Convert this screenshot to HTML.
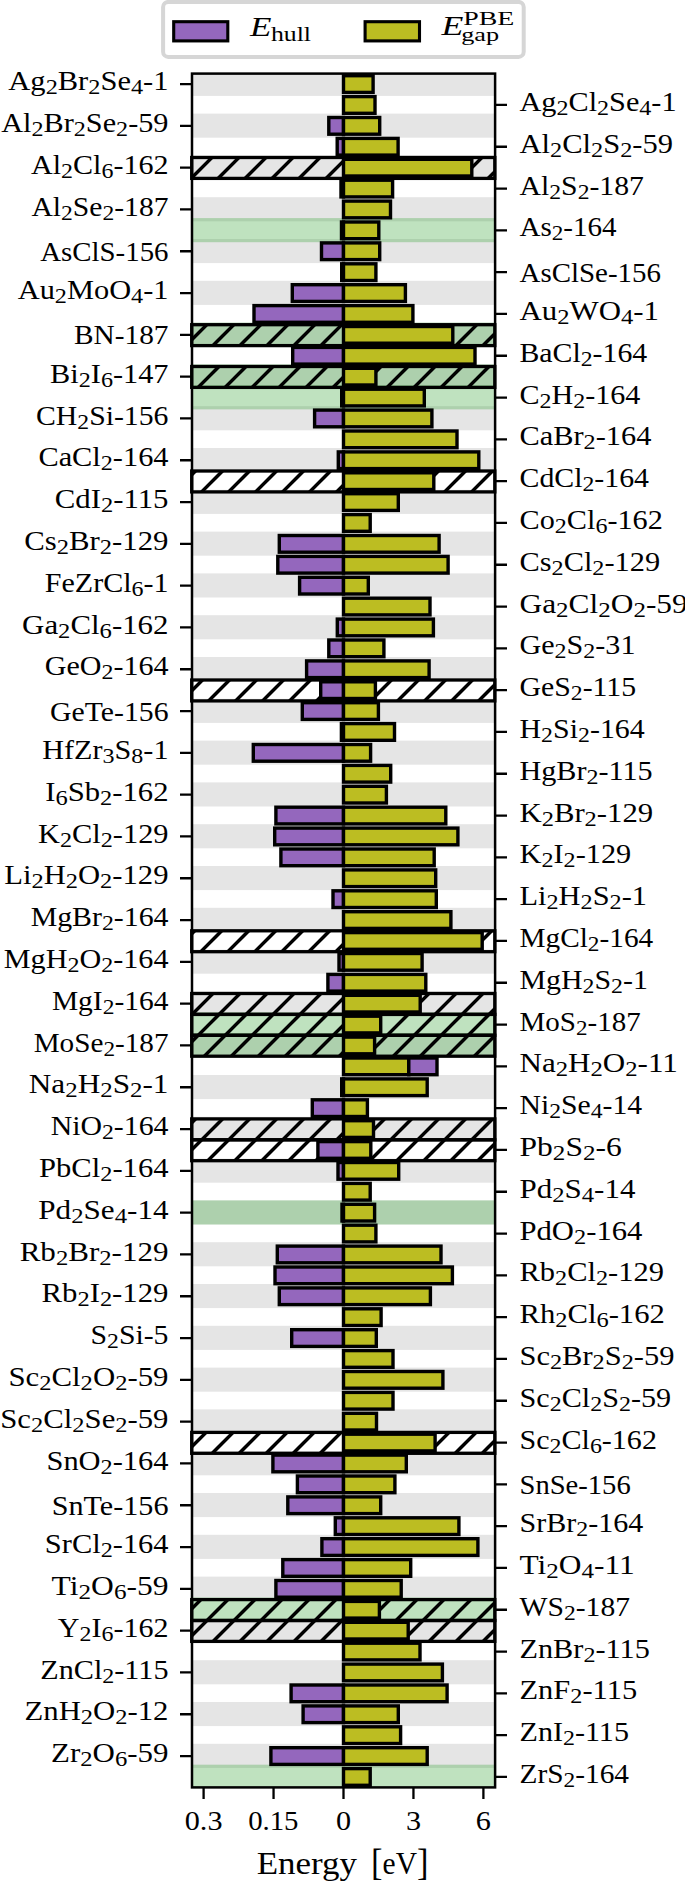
<!DOCTYPE html><html><head><meta charset="utf-8"><style>html,body{margin:0;padding:0;background:#fff;width:685px;height:1882px;overflow:hidden}svg{display:block}.lb{font-family:"Liberation Serif",serif;font-size:27px;fill:#000}</style></head><body>
<svg width="685" height="1882" viewBox="0 0 685 1882">
<defs><pattern id="ht" patternUnits="userSpaceOnUse" x="1" y="0" width="27" height="27"><path d="M-2 19.5L19.5 -2M15.5 29L29 15.5" stroke="#000" stroke-width="3.4" fill="none"/></pattern><clipPath id="ax"><rect x="192" y="73.6" width="303.1" height="1713.8"/></clipPath></defs>
<rect width="685" height="1882" fill="#fff"/>
<g clip-path="url(#ax)">
<rect x="192" y="71.8" width="303.1" height="24.1" fill="#e5e5e5"/>
<rect x="192" y="113.6" width="303.1" height="24.1" fill="#e5e5e5"/>
<rect x="192" y="155.4" width="303.1" height="24.1" fill="#e5e5e5"/>
<rect x="192" y="197.2" width="303.1" height="24.1" fill="#e5e5e5"/>
<rect x="192" y="239" width="303.1" height="24.1" fill="#e5e5e5"/>
<rect x="192" y="280.8" width="303.1" height="24.1" fill="#e5e5e5"/>
<rect x="192" y="322.6" width="303.1" height="24.1" fill="#e5e5e5"/>
<rect x="192" y="364.4" width="303.1" height="24.1" fill="#e5e5e5"/>
<rect x="192" y="406.2" width="303.1" height="24.1" fill="#e5e5e5"/>
<rect x="192" y="448" width="303.1" height="24.1" fill="#e5e5e5"/>
<rect x="192" y="489.8" width="303.1" height="24.1" fill="#e5e5e5"/>
<rect x="192" y="531.6" width="303.1" height="24.1" fill="#e5e5e5"/>
<rect x="192" y="573.4" width="303.1" height="24.1" fill="#e5e5e5"/>
<rect x="192" y="615.2" width="303.1" height="24.1" fill="#e5e5e5"/>
<rect x="192" y="657" width="303.1" height="24.1" fill="#e5e5e5"/>
<rect x="192" y="698.8" width="303.1" height="24.1" fill="#e5e5e5"/>
<rect x="192" y="740.6" width="303.1" height="24.1" fill="#e5e5e5"/>
<rect x="192" y="782.4" width="303.1" height="24.1" fill="#e5e5e5"/>
<rect x="192" y="824.2" width="303.1" height="24.1" fill="#e5e5e5"/>
<rect x="192" y="866" width="303.1" height="24.1" fill="#e5e5e5"/>
<rect x="192" y="907.8" width="303.1" height="24.1" fill="#e5e5e5"/>
<rect x="192" y="949.6" width="303.1" height="24.1" fill="#e5e5e5"/>
<rect x="192" y="991.4" width="303.1" height="24.1" fill="#e5e5e5"/>
<rect x="192" y="1033.2" width="303.1" height="24.1" fill="#e5e5e5"/>
<rect x="192" y="1075" width="303.1" height="24.1" fill="#e5e5e5"/>
<rect x="192" y="1116.8" width="303.1" height="24.1" fill="#e5e5e5"/>
<rect x="192" y="1158.6" width="303.1" height="24.1" fill="#e5e5e5"/>
<rect x="192" y="1200.4" width="303.1" height="24.1" fill="#e5e5e5"/>
<rect x="192" y="1242.2" width="303.1" height="24.1" fill="#e5e5e5"/>
<rect x="192" y="1284" width="303.1" height="24.1" fill="#e5e5e5"/>
<rect x="192" y="1325.8" width="303.1" height="24.1" fill="#e5e5e5"/>
<rect x="192" y="1367.6" width="303.1" height="24.1" fill="#e5e5e5"/>
<rect x="192" y="1409.4" width="303.1" height="24.1" fill="#e5e5e5"/>
<rect x="192" y="1451.2" width="303.1" height="24.1" fill="#e5e5e5"/>
<rect x="192" y="1493" width="303.1" height="24.1" fill="#e5e5e5"/>
<rect x="192" y="1534.8" width="303.1" height="24.1" fill="#e5e5e5"/>
<rect x="192" y="1576.6" width="303.1" height="24.1" fill="#e5e5e5"/>
<rect x="192" y="1618.4" width="303.1" height="24.1" fill="#e5e5e5"/>
<rect x="192" y="1660.2" width="303.1" height="24.1" fill="#e5e5e5"/>
<rect x="192" y="1702" width="303.1" height="24.1" fill="#e5e5e5"/>
<rect x="192" y="1743.8" width="303.1" height="24.1" fill="#e5e5e5"/>
<rect x="192" y="218.1" width="303.1" height="24.1" fill="#2ca02c" fill-opacity="0.3"/>
<rect x="192" y="322.6" width="303.1" height="24.1" fill="#2ca02c" fill-opacity="0.3"/>
<rect x="192" y="364.4" width="303.1" height="24.1" fill="#2ca02c" fill-opacity="0.3"/>
<rect x="192" y="385.3" width="303.1" height="24.1" fill="#2ca02c" fill-opacity="0.3"/>
<rect x="192" y="1012.3" width="303.1" height="24.1" fill="#2ca02c" fill-opacity="0.3"/>
<rect x="192" y="1033.2" width="303.1" height="24.1" fill="#2ca02c" fill-opacity="0.3"/>
<rect x="192" y="1200.4" width="303.1" height="24.1" fill="#2ca02c" fill-opacity="0.3"/>
<rect x="192" y="1597.5" width="303.1" height="24.1" fill="#2ca02c" fill-opacity="0.3"/>
<rect x="192" y="1764.7" width="303.1" height="24.1" fill="#2ca02c" fill-opacity="0.3"/>
<rect x="192" y="157.5" width="303.1" height="20.9" fill="url(#ht)"/>
<rect x="192" y="324.7" width="303.1" height="20.9" fill="url(#ht)"/>
<rect x="192" y="366.5" width="303.1" height="20.9" fill="url(#ht)"/>
<rect x="192" y="471" width="303.1" height="20.9" fill="url(#ht)"/>
<rect x="192" y="680" width="303.1" height="20.9" fill="url(#ht)"/>
<rect x="192" y="930.8" width="303.1" height="20.9" fill="url(#ht)"/>
<rect x="192" y="993.5" width="303.1" height="20.9" fill="url(#ht)"/>
<rect x="192" y="1014.4" width="303.1" height="20.9" fill="url(#ht)"/>
<rect x="192" y="1035.3" width="303.1" height="20.9" fill="url(#ht)"/>
<rect x="192" y="1118.9" width="303.1" height="20.9" fill="url(#ht)"/>
<rect x="192" y="1139.8" width="303.1" height="20.9" fill="url(#ht)"/>
<rect x="192" y="1432.4" width="303.1" height="20.9" fill="url(#ht)"/>
<rect x="192" y="1599.6" width="303.1" height="20.9" fill="url(#ht)"/>
<rect x="192" y="1620.5" width="303.1" height="20.9" fill="url(#ht)"/>
</g>
<rect x="191.7" y="157.5" width="303.1" height="20.9" fill="none" stroke="#000" stroke-width="3.3"/>
<rect x="191.7" y="324.7" width="303.1" height="20.9" fill="none" stroke="#000" stroke-width="3.3"/>
<rect x="191.7" y="366.5" width="303.1" height="20.9" fill="none" stroke="#000" stroke-width="3.3"/>
<rect x="191.7" y="471" width="303.1" height="20.9" fill="none" stroke="#000" stroke-width="3.3"/>
<rect x="191.7" y="680" width="303.1" height="20.9" fill="none" stroke="#000" stroke-width="3.3"/>
<rect x="191.7" y="930.8" width="303.1" height="20.9" fill="none" stroke="#000" stroke-width="3.3"/>
<rect x="191.7" y="993.5" width="303.1" height="20.9" fill="none" stroke="#000" stroke-width="3.3"/>
<rect x="191.7" y="1014.4" width="303.1" height="20.9" fill="none" stroke="#000" stroke-width="3.3"/>
<rect x="191.7" y="1035.3" width="303.1" height="20.9" fill="none" stroke="#000" stroke-width="3.3"/>
<rect x="191.7" y="1118.9" width="303.1" height="20.9" fill="none" stroke="#000" stroke-width="3.3"/>
<rect x="191.7" y="1139.8" width="303.1" height="20.9" fill="none" stroke="#000" stroke-width="3.3"/>
<rect x="191.7" y="1432.4" width="303.1" height="20.9" fill="none" stroke="#000" stroke-width="3.3"/>
<rect x="191.7" y="1599.6" width="303.1" height="20.9" fill="none" stroke="#000" stroke-width="3.3"/>
<rect x="191.7" y="1620.5" width="303.1" height="20.9" fill="none" stroke="#000" stroke-width="3.3"/>
<rect x="343.5" y="75.7" width="29.6" height="16.7" fill="#bcbd22" stroke="#000" stroke-width="3.4"/>
<rect x="343.5" y="96.6" width="31.5" height="16.7" fill="#bcbd22" stroke="#000" stroke-width="3.4"/>
<rect x="328.8" y="117.5" width="14.7" height="16.7" fill="#9467bd" stroke="#000" stroke-width="3.4"/>
<rect x="343.5" y="117.5" width="36.2" height="16.7" fill="#bcbd22" stroke="#000" stroke-width="3.4"/>
<rect x="337.2" y="138.4" width="6.3" height="16.7" fill="#9467bd" stroke="#000" stroke-width="3.4"/>
<rect x="343.5" y="138.4" width="54.6" height="16.7" fill="#bcbd22" stroke="#000" stroke-width="3.4"/>
<rect x="343.5" y="159.3" width="128.3" height="16.7" fill="#bcbd22" stroke="#000" stroke-width="3.4"/>
<rect x="341" y="180.2" width="2.5" height="16.7" fill="#9467bd" stroke="#000" stroke-width="3.4"/>
<rect x="343.5" y="180.2" width="49.1" height="16.7" fill="#bcbd22" stroke="#000" stroke-width="3.4"/>
<rect x="343.5" y="201.1" width="47" height="16.7" fill="#bcbd22" stroke="#000" stroke-width="3.4"/>
<rect x="341.5" y="222" width="2" height="16.7" fill="#9467bd" stroke="#000" stroke-width="3.4"/>
<rect x="343.5" y="222" width="35.3" height="16.7" fill="#bcbd22" stroke="#000" stroke-width="3.4"/>
<rect x="321.5" y="242.9" width="22" height="16.7" fill="#9467bd" stroke="#000" stroke-width="3.4"/>
<rect x="343.5" y="242.9" width="36.2" height="16.7" fill="#bcbd22" stroke="#000" stroke-width="3.4"/>
<rect x="341.7" y="263.8" width="1.8" height="16.7" fill="#9467bd" stroke="#000" stroke-width="3.4"/>
<rect x="343.5" y="263.8" width="32.4" height="16.7" fill="#bcbd22" stroke="#000" stroke-width="3.4"/>
<rect x="292.3" y="284.7" width="51.2" height="16.7" fill="#9467bd" stroke="#000" stroke-width="3.4"/>
<rect x="343.5" y="284.7" width="61.9" height="16.7" fill="#bcbd22" stroke="#000" stroke-width="3.4"/>
<rect x="254" y="305.6" width="89.5" height="16.7" fill="#9467bd" stroke="#000" stroke-width="3.4"/>
<rect x="343.5" y="305.6" width="69.4" height="16.7" fill="#bcbd22" stroke="#000" stroke-width="3.4"/>
<rect x="343.5" y="326.5" width="109.3" height="16.7" fill="#bcbd22" stroke="#000" stroke-width="3.4"/>
<rect x="292.7" y="347.4" width="50.8" height="16.7" fill="#9467bd" stroke="#000" stroke-width="3.4"/>
<rect x="343.5" y="347.4" width="131.5" height="16.7" fill="#bcbd22" stroke="#000" stroke-width="3.4"/>
<rect x="343.5" y="368.3" width="32.4" height="16.7" fill="#bcbd22" stroke="#000" stroke-width="3.4"/>
<rect x="341.7" y="389.2" width="1.8" height="16.7" fill="#9467bd" stroke="#000" stroke-width="3.4"/>
<rect x="343.5" y="389.2" width="80.8" height="16.7" fill="#bcbd22" stroke="#000" stroke-width="3.4"/>
<rect x="314.6" y="410.1" width="28.9" height="16.7" fill="#9467bd" stroke="#000" stroke-width="3.4"/>
<rect x="343.5" y="410.1" width="88.4" height="16.7" fill="#bcbd22" stroke="#000" stroke-width="3.4"/>
<rect x="343.5" y="431" width="113.5" height="16.7" fill="#bcbd22" stroke="#000" stroke-width="3.4"/>
<rect x="338.3" y="451.9" width="5.2" height="16.7" fill="#9467bd" stroke="#000" stroke-width="3.4"/>
<rect x="343.5" y="451.9" width="135.3" height="16.7" fill="#bcbd22" stroke="#000" stroke-width="3.4"/>
<rect x="343.5" y="472.8" width="90.3" height="16.7" fill="#bcbd22" stroke="#000" stroke-width="3.4"/>
<rect x="343.5" y="493.7" width="54.8" height="16.7" fill="#bcbd22" stroke="#000" stroke-width="3.4"/>
<rect x="343.5" y="514.6" width="26.7" height="16.7" fill="#bcbd22" stroke="#000" stroke-width="3.4"/>
<rect x="279.3" y="535.5" width="64.2" height="16.7" fill="#9467bd" stroke="#000" stroke-width="3.4"/>
<rect x="343.5" y="535.5" width="95.6" height="16.7" fill="#bcbd22" stroke="#000" stroke-width="3.4"/>
<rect x="277.8" y="556.4" width="65.7" height="16.7" fill="#9467bd" stroke="#000" stroke-width="3.4"/>
<rect x="343.5" y="556.4" width="104.6" height="16.7" fill="#bcbd22" stroke="#000" stroke-width="3.4"/>
<rect x="299.6" y="577.3" width="43.9" height="16.7" fill="#9467bd" stroke="#000" stroke-width="3.4"/>
<rect x="343.5" y="577.3" width="24.8" height="16.7" fill="#bcbd22" stroke="#000" stroke-width="3.4"/>
<rect x="343.5" y="598.2" width="86.5" height="16.7" fill="#bcbd22" stroke="#000" stroke-width="3.4"/>
<rect x="337.3" y="619.1" width="6.2" height="16.7" fill="#9467bd" stroke="#000" stroke-width="3.4"/>
<rect x="343.5" y="619.1" width="89.9" height="16.7" fill="#bcbd22" stroke="#000" stroke-width="3.4"/>
<rect x="328.8" y="640" width="14.7" height="16.7" fill="#9467bd" stroke="#000" stroke-width="3.4"/>
<rect x="343.5" y="640" width="40.4" height="16.7" fill="#bcbd22" stroke="#000" stroke-width="3.4"/>
<rect x="306.6" y="660.9" width="36.9" height="16.7" fill="#9467bd" stroke="#000" stroke-width="3.4"/>
<rect x="343.5" y="660.9" width="85.6" height="16.7" fill="#bcbd22" stroke="#000" stroke-width="3.4"/>
<rect x="320.7" y="681.8" width="22.8" height="16.7" fill="#9467bd" stroke="#000" stroke-width="3.4"/>
<rect x="343.5" y="681.8" width="31.9" height="16.7" fill="#bcbd22" stroke="#000" stroke-width="3.4"/>
<rect x="302.3" y="702.7" width="41.2" height="16.7" fill="#9467bd" stroke="#000" stroke-width="3.4"/>
<rect x="343.5" y="702.7" width="34.9" height="16.7" fill="#bcbd22" stroke="#000" stroke-width="3.4"/>
<rect x="341.4" y="723.6" width="2.1" height="16.7" fill="#9467bd" stroke="#000" stroke-width="3.4"/>
<rect x="343.5" y="723.6" width="51" height="16.7" fill="#bcbd22" stroke="#000" stroke-width="3.4"/>
<rect x="253.3" y="744.5" width="90.2" height="16.7" fill="#9467bd" stroke="#000" stroke-width="3.4"/>
<rect x="343.5" y="744.5" width="27.1" height="16.7" fill="#bcbd22" stroke="#000" stroke-width="3.4"/>
<rect x="343.5" y="765.4" width="47.2" height="16.7" fill="#bcbd22" stroke="#000" stroke-width="3.4"/>
<rect x="343.5" y="786.3" width="42.9" height="16.7" fill="#bcbd22" stroke="#000" stroke-width="3.4"/>
<rect x="275.9" y="807.2" width="67.6" height="16.7" fill="#9467bd" stroke="#000" stroke-width="3.4"/>
<rect x="343.5" y="807.2" width="102.3" height="16.7" fill="#bcbd22" stroke="#000" stroke-width="3.4"/>
<rect x="274.7" y="828.1" width="68.8" height="16.7" fill="#9467bd" stroke="#000" stroke-width="3.4"/>
<rect x="343.5" y="828.1" width="114.4" height="16.7" fill="#bcbd22" stroke="#000" stroke-width="3.4"/>
<rect x="280.9" y="849" width="62.6" height="16.7" fill="#9467bd" stroke="#000" stroke-width="3.4"/>
<rect x="343.5" y="849" width="90.7" height="16.7" fill="#bcbd22" stroke="#000" stroke-width="3.4"/>
<rect x="343.5" y="869.9" width="92.2" height="16.7" fill="#bcbd22" stroke="#000" stroke-width="3.4"/>
<rect x="333" y="890.8" width="10.5" height="16.7" fill="#9467bd" stroke="#000" stroke-width="3.4"/>
<rect x="343.5" y="890.8" width="92.8" height="16.7" fill="#bcbd22" stroke="#000" stroke-width="3.4"/>
<rect x="343.5" y="911.7" width="107.4" height="16.7" fill="#bcbd22" stroke="#000" stroke-width="3.4"/>
<rect x="343.5" y="932.6" width="138.7" height="16.7" fill="#bcbd22" stroke="#000" stroke-width="3.4"/>
<rect x="339" y="953.5" width="4.5" height="16.7" fill="#9467bd" stroke="#000" stroke-width="3.4"/>
<rect x="343.5" y="953.5" width="78.6" height="16.7" fill="#bcbd22" stroke="#000" stroke-width="3.4"/>
<rect x="327.9" y="974.4" width="15.6" height="16.7" fill="#9467bd" stroke="#000" stroke-width="3.4"/>
<rect x="343.5" y="974.4" width="82.3" height="16.7" fill="#bcbd22" stroke="#000" stroke-width="3.4"/>
<rect x="343.5" y="995.3" width="76.7" height="16.7" fill="#bcbd22" stroke="#000" stroke-width="3.4"/>
<rect x="343.5" y="1016.2" width="37.2" height="16.7" fill="#bcbd22" stroke="#000" stroke-width="3.4"/>
<rect x="343.5" y="1037.1" width="31.1" height="16.7" fill="#bcbd22" stroke="#000" stroke-width="3.4"/>
<rect x="343.5" y="1058" width="65.3" height="16.7" fill="#bcbd22" stroke="#000" stroke-width="3.4"/>
<rect x="408.8" y="1058" width="28.2" height="16.7" fill="#9467bd" stroke="#000" stroke-width="3.4"/>
<rect x="341.7" y="1078.9" width="1.8" height="16.7" fill="#9467bd" stroke="#000" stroke-width="3.4"/>
<rect x="343.5" y="1078.9" width="83.7" height="16.7" fill="#bcbd22" stroke="#000" stroke-width="3.4"/>
<rect x="312.3" y="1099.8" width="31.2" height="16.7" fill="#9467bd" stroke="#000" stroke-width="3.4"/>
<rect x="343.5" y="1099.8" width="23.9" height="16.7" fill="#bcbd22" stroke="#000" stroke-width="3.4"/>
<rect x="343.5" y="1120.7" width="30" height="16.7" fill="#bcbd22" stroke="#000" stroke-width="3.4"/>
<rect x="317.9" y="1141.6" width="25.6" height="16.7" fill="#9467bd" stroke="#000" stroke-width="3.4"/>
<rect x="343.5" y="1141.6" width="27.3" height="16.7" fill="#bcbd22" stroke="#000" stroke-width="3.4"/>
<rect x="338" y="1162.5" width="5.5" height="16.7" fill="#9467bd" stroke="#000" stroke-width="3.4"/>
<rect x="343.5" y="1162.5" width="55.2" height="16.7" fill="#bcbd22" stroke="#000" stroke-width="3.4"/>
<rect x="343.5" y="1183.4" width="26.7" height="16.7" fill="#bcbd22" stroke="#000" stroke-width="3.4"/>
<rect x="342" y="1204.3" width="1.5" height="16.7" fill="#9467bd" stroke="#000" stroke-width="3.4"/>
<rect x="343.5" y="1204.3" width="31.1" height="16.7" fill="#bcbd22" stroke="#000" stroke-width="3.4"/>
<rect x="343.5" y="1225.2" width="32.4" height="16.7" fill="#bcbd22" stroke="#000" stroke-width="3.4"/>
<rect x="277.3" y="1246.1" width="66.2" height="16.7" fill="#9467bd" stroke="#000" stroke-width="3.4"/>
<rect x="343.5" y="1246.1" width="97.5" height="16.7" fill="#bcbd22" stroke="#000" stroke-width="3.4"/>
<rect x="275" y="1267" width="68.5" height="16.7" fill="#9467bd" stroke="#000" stroke-width="3.4"/>
<rect x="343.5" y="1267" width="108.9" height="16.7" fill="#bcbd22" stroke="#000" stroke-width="3.4"/>
<rect x="279.3" y="1287.9" width="64.2" height="16.7" fill="#9467bd" stroke="#000" stroke-width="3.4"/>
<rect x="343.5" y="1287.9" width="86.9" height="16.7" fill="#bcbd22" stroke="#000" stroke-width="3.4"/>
<rect x="343.5" y="1308.8" width="37.6" height="16.7" fill="#bcbd22" stroke="#000" stroke-width="3.4"/>
<rect x="291.7" y="1329.7" width="51.8" height="16.7" fill="#9467bd" stroke="#000" stroke-width="3.4"/>
<rect x="343.5" y="1329.7" width="32.8" height="16.7" fill="#bcbd22" stroke="#000" stroke-width="3.4"/>
<rect x="343.5" y="1350.6" width="49.5" height="16.7" fill="#bcbd22" stroke="#000" stroke-width="3.4"/>
<rect x="343.5" y="1371.5" width="99.4" height="16.7" fill="#bcbd22" stroke="#000" stroke-width="3.4"/>
<rect x="343.5" y="1392.4" width="49.5" height="16.7" fill="#bcbd22" stroke="#000" stroke-width="3.4"/>
<rect x="343.5" y="1413.3" width="33" height="16.7" fill="#bcbd22" stroke="#000" stroke-width="3.4"/>
<rect x="343.5" y="1434.2" width="91.6" height="16.7" fill="#bcbd22" stroke="#000" stroke-width="3.4"/>
<rect x="272.9" y="1455.1" width="70.6" height="16.7" fill="#9467bd" stroke="#000" stroke-width="3.4"/>
<rect x="343.5" y="1455.1" width="62.8" height="16.7" fill="#bcbd22" stroke="#000" stroke-width="3.4"/>
<rect x="297.4" y="1476" width="46.1" height="16.7" fill="#9467bd" stroke="#000" stroke-width="3.4"/>
<rect x="343.5" y="1476" width="51.4" height="16.7" fill="#bcbd22" stroke="#000" stroke-width="3.4"/>
<rect x="287.8" y="1496.9" width="55.7" height="16.7" fill="#9467bd" stroke="#000" stroke-width="3.4"/>
<rect x="343.5" y="1496.9" width="37.2" height="16.7" fill="#bcbd22" stroke="#000" stroke-width="3.4"/>
<rect x="335.3" y="1517.8" width="8.2" height="16.7" fill="#9467bd" stroke="#000" stroke-width="3.4"/>
<rect x="343.5" y="1517.8" width="115.4" height="16.7" fill="#bcbd22" stroke="#000" stroke-width="3.4"/>
<rect x="321.9" y="1538.7" width="21.6" height="16.7" fill="#9467bd" stroke="#000" stroke-width="3.4"/>
<rect x="343.5" y="1538.7" width="134.4" height="16.7" fill="#bcbd22" stroke="#000" stroke-width="3.4"/>
<rect x="282.8" y="1559.6" width="60.7" height="16.7" fill="#9467bd" stroke="#000" stroke-width="3.4"/>
<rect x="343.5" y="1559.6" width="67.2" height="16.7" fill="#bcbd22" stroke="#000" stroke-width="3.4"/>
<rect x="275.9" y="1580.5" width="67.6" height="16.7" fill="#9467bd" stroke="#000" stroke-width="3.4"/>
<rect x="343.5" y="1580.5" width="57.7" height="16.7" fill="#bcbd22" stroke="#000" stroke-width="3.4"/>
<rect x="343.5" y="1601.4" width="35.9" height="16.7" fill="#bcbd22" stroke="#000" stroke-width="3.4"/>
<rect x="343.5" y="1622.3" width="64.7" height="16.7" fill="#bcbd22" stroke="#000" stroke-width="3.4"/>
<rect x="343.5" y="1643.2" width="76.5" height="16.7" fill="#bcbd22" stroke="#000" stroke-width="3.4"/>
<rect x="343.5" y="1664.1" width="98.9" height="16.7" fill="#bcbd22" stroke="#000" stroke-width="3.4"/>
<rect x="291.1" y="1685" width="52.4" height="16.7" fill="#9467bd" stroke="#000" stroke-width="3.4"/>
<rect x="343.5" y="1685" width="103.6" height="16.7" fill="#bcbd22" stroke="#000" stroke-width="3.4"/>
<rect x="303.1" y="1705.9" width="40.4" height="16.7" fill="#9467bd" stroke="#000" stroke-width="3.4"/>
<rect x="343.5" y="1705.9" width="54.8" height="16.7" fill="#bcbd22" stroke="#000" stroke-width="3.4"/>
<rect x="343.5" y="1726.8" width="57.1" height="16.7" fill="#bcbd22" stroke="#000" stroke-width="3.4"/>
<rect x="270.9" y="1747.7" width="72.6" height="16.7" fill="#9467bd" stroke="#000" stroke-width="3.4"/>
<rect x="343.5" y="1747.7" width="83.7" height="16.7" fill="#bcbd22" stroke="#000" stroke-width="3.4"/>
<rect x="343.5" y="1768.6" width="26.7" height="16.7" fill="#bcbd22" stroke="#000" stroke-width="3.4"/>
<rect x="192" y="73.6" width="303.1" height="1713.8" fill="none" stroke="#000" stroke-width="2.5"/>
<path d="M180 84.05H192M495.1 104.95H507M180 125.85H192M495.1 146.75H507M180 167.65H192M495.1 188.55H507M180 209.45H192M495.1 230.35H507M180 251.25H192M495.1 272.15H507M180 293.05H192M495.1 313.95H507M180 334.85H192M495.1 355.75H507M180 376.65H192M495.1 397.55H507M180 418.45H192M495.1 439.35H507M180 460.25H192M495.1 481.15H507M180 502.05H192M495.1 522.95H507M180 543.85H192M495.1 564.75H507M180 585.65H192M495.1 606.55H507M180 627.45H192M495.1 648.35H507M180 669.25H192M495.1 690.15H507M180 711.05H192M495.1 731.95H507M180 752.85H192M495.1 773.75H507M180 794.65H192M495.1 815.55H507M180 836.45H192M495.1 857.35H507M180 878.25H192M495.1 899.15H507M180 920.05H192M495.1 940.95H507M180 961.85H192M495.1 982.75H507M180 1003.65H192M495.1 1024.55H507M180 1045.45H192M495.1 1066.35H507M180 1087.25H192M495.1 1108.15H507M180 1129.05H192M495.1 1149.95H507M180 1170.85H192M495.1 1191.75H507M180 1212.65H192M495.1 1233.55H507M180 1254.45H192M495.1 1275.35H507M180 1296.25H192M495.1 1317.15H507M180 1338.05H192M495.1 1358.95H507M180 1379.85H192M495.1 1400.75H507M180 1421.65H192M495.1 1442.55H507M180 1463.45H192M495.1 1484.35H507M180 1505.25H192M495.1 1526.15H507M180 1547.05H192M495.1 1567.95H507M180 1588.85H192M495.1 1609.75H507M180 1630.65H192M495.1 1651.55H507M180 1672.45H192M495.1 1693.35H507M180 1714.25H192M495.1 1735.15H507M180 1756.05H192M495.1 1776.95H507M203.6 1787.4V1799M273.55 1787.4V1799M343.5 1787.4V1799M413.45 1787.4V1799M483.4 1787.4V1799" stroke="#000" stroke-width="2.3" fill="none"/>
<text class="lb" transform="translate(168.5 90.15) scale(1.1300 1)" text-anchor="end" x="0" y="0"><tspan>Ag</tspan><tspan font-size="21.5" dy="4">2</tspan><tspan dy="-4">Br</tspan><tspan font-size="21.5" dy="4">2</tspan><tspan dy="-4">Se</tspan><tspan font-size="21.5" dy="4">4</tspan><tspan dy="-4">-1</tspan></text>
<text class="lb" transform="translate(519.5 111.05) scale(1.1199 1)" text-anchor="start" x="0" y="0"><tspan>Ag</tspan><tspan font-size="21.5" dy="4">2</tspan><tspan dy="-4">Cl</tspan><tspan font-size="21.5" dy="4">2</tspan><tspan dy="-4">Se</tspan><tspan font-size="21.5" dy="4">4</tspan><tspan dy="-4">-1</tspan></text>
<text class="lb" transform="translate(168.5 131.95) scale(1.1212 1)" text-anchor="end" x="0" y="0"><tspan>Al</tspan><tspan font-size="21.5" dy="4">2</tspan><tspan dy="-4">Br</tspan><tspan font-size="21.5" dy="4">2</tspan><tspan dy="-4">Se</tspan><tspan font-size="21.5" dy="4">2</tspan><tspan dy="-4">-59</tspan></text>
<text class="lb" transform="translate(519.5 152.85) scale(1.1308 1)" text-anchor="start" x="0" y="0"><tspan>Al</tspan><tspan font-size="21.5" dy="4">2</tspan><tspan dy="-4">Cl</tspan><tspan font-size="21.5" dy="4">2</tspan><tspan dy="-4">S</tspan><tspan font-size="21.5" dy="4">2</tspan><tspan dy="-4">-59</tspan></text>
<text class="lb" transform="translate(168.5 173.75) scale(1.1134 1)" text-anchor="end" x="0" y="0"><tspan>Al</tspan><tspan font-size="21.5" dy="4">2</tspan><tspan dy="-4">Cl</tspan><tspan font-size="21.5" dy="4">6</tspan><tspan dy="-4">-162</tspan></text>
<text class="lb" transform="translate(519.5 194.65) scale(1.1014 1)" text-anchor="start" x="0" y="0"><tspan>Al</tspan><tspan font-size="21.5" dy="4">2</tspan><tspan dy="-4">S</tspan><tspan font-size="21.5" dy="4">2</tspan><tspan dy="-4">-187</tspan></text>
<text class="lb" transform="translate(168.5 215.55) scale(1.0964 1)" text-anchor="end" x="0" y="0"><tspan>Al</tspan><tspan font-size="21.5" dy="4">2</tspan><tspan dy="-4">Se</tspan><tspan font-size="21.5" dy="4">2</tspan><tspan dy="-4">-187</tspan></text>
<text class="lb" transform="translate(519.5 236.45) scale(1.0760 1)" text-anchor="start" x="0" y="0"><tspan>As</tspan><tspan font-size="21.5" dy="4">2</tspan><tspan dy="-4">-164</tspan></text>
<text class="lb" transform="translate(168.5 260.75) scale(1.0686 1)" text-anchor="end" x="0" y="0"><tspan>AsClS</tspan><tspan>-156</tspan></text>
<text class="lb" transform="translate(519.5 281.65) scale(1.0715 1)" text-anchor="start" x="0" y="0"><tspan>AsClSe</tspan><tspan>-156</tspan></text>
<text class="lb" transform="translate(168.5 299.15) scale(1.1259 1)" text-anchor="end" x="0" y="0"><tspan>Au</tspan><tspan font-size="21.5" dy="4">2</tspan><tspan dy="-4">MoO</tspan><tspan font-size="21.5" dy="4">4</tspan><tspan dy="-4">-1</tspan></text>
<text class="lb" transform="translate(519.5 320.05) scale(1.1444 1)" text-anchor="start" x="0" y="0"><tspan>Au</tspan><tspan font-size="21.5" dy="4">2</tspan><tspan dy="-4">WO</tspan><tspan font-size="21.5" dy="4">4</tspan><tspan dy="-4">-1</tspan></text>
<text class="lb" transform="translate(168.5 344.35) scale(1.0857 1)" text-anchor="end" x="0" y="0"><tspan>BN</tspan><tspan>-187</tspan></text>
<text class="lb" transform="translate(519.5 361.85) scale(1.1039 1)" text-anchor="start" x="0" y="0"><tspan>BaCl</tspan><tspan font-size="21.5" dy="4">2</tspan><tspan dy="-4">-164</tspan></text>
<text class="lb" transform="translate(168.5 382.75) scale(1.1224 1)" text-anchor="end" x="0" y="0"><tspan>Bi</tspan><tspan font-size="21.5" dy="4">2</tspan><tspan dy="-4">I</tspan><tspan font-size="21.5" dy="4">6</tspan><tspan dy="-4">-147</tspan></text>
<text class="lb" transform="translate(519.5 403.65) scale(1.1143 1)" text-anchor="start" x="0" y="0"><tspan>C</tspan><tspan font-size="21.5" dy="4">2</tspan><tspan dy="-4">H</tspan><tspan font-size="21.5" dy="4">2</tspan><tspan dy="-4">-164</tspan></text>
<text class="lb" transform="translate(168.5 424.55) scale(1.1021 1)" text-anchor="end" x="0" y="0"><tspan>CH</tspan><tspan font-size="21.5" dy="4">2</tspan><tspan dy="-4">Si</tspan><tspan>-156</tspan></text>
<text class="lb" transform="translate(519.5 445.45) scale(1.1253 1)" text-anchor="start" x="0" y="0"><tspan>CaBr</tspan><tspan font-size="21.5" dy="4">2</tspan><tspan dy="-4">-164</tspan></text>
<text class="lb" transform="translate(168.5 466.35) scale(1.1240 1)" text-anchor="end" x="0" y="0"><tspan>CaCl</tspan><tspan font-size="21.5" dy="4">2</tspan><tspan dy="-4">-164</tspan></text>
<text class="lb" transform="translate(519.5 487.25) scale(1.1047 1)" text-anchor="start" x="0" y="0"><tspan>CdCl</tspan><tspan font-size="21.5" dy="4">2</tspan><tspan dy="-4">-164</tspan></text>
<text class="lb" transform="translate(168.5 508.15) scale(1.1401 1)" text-anchor="end" x="0" y="0"><tspan>CdI</tspan><tspan font-size="21.5" dy="4">2</tspan><tspan dy="-4">-115</tspan></text>
<text class="lb" transform="translate(519.5 529.05) scale(1.1201 1)" text-anchor="start" x="0" y="0"><tspan>Co</tspan><tspan font-size="21.5" dy="4">2</tspan><tspan dy="-4">Cl</tspan><tspan font-size="21.5" dy="4">6</tspan><tspan dy="-4">-162</tspan></text>
<text class="lb" transform="translate(168.5 549.95) scale(1.1402 1)" text-anchor="end" x="0" y="0"><tspan>Cs</tspan><tspan font-size="21.5" dy="4">2</tspan><tspan dy="-4">Br</tspan><tspan font-size="21.5" dy="4">2</tspan><tspan dy="-4">-129</tspan></text>
<text class="lb" transform="translate(519.5 570.85) scale(1.1247 1)" text-anchor="start" x="0" y="0"><tspan>Cs</tspan><tspan font-size="21.5" dy="4">2</tspan><tspan dy="-4">Cl</tspan><tspan font-size="21.5" dy="4">2</tspan><tspan dy="-4">-129</tspan></text>
<text class="lb" transform="translate(168.5 591.75) scale(1.1122 1)" text-anchor="end" x="0" y="0"><tspan>FeZrCl</tspan><tspan font-size="21.5" dy="4">6</tspan><tspan dy="-4">-1</tspan></text>
<text class="lb" transform="translate(519.5 612.65) scale(1.1623 1)" text-anchor="start" x="0" y="0"><tspan>Ga</tspan><tspan font-size="21.5" dy="4">2</tspan><tspan dy="-4">Cl</tspan><tspan font-size="21.5" dy="4">2</tspan><tspan dy="-4">O</tspan><tspan font-size="21.5" dy="4">2</tspan><tspan dy="-4">-59</tspan></text>
<text class="lb" transform="translate(168.5 633.55) scale(1.1439 1)" text-anchor="end" x="0" y="0"><tspan>Ga</tspan><tspan font-size="21.5" dy="4">2</tspan><tspan dy="-4">Cl</tspan><tspan font-size="21.5" dy="4">6</tspan><tspan dy="-4">-162</tspan></text>
<text class="lb" transform="translate(519.5 654.45) scale(1.1151 1)" text-anchor="start" x="0" y="0"><tspan>Ge</tspan><tspan font-size="21.5" dy="4">2</tspan><tspan dy="-4">S</tspan><tspan font-size="21.5" dy="4">2</tspan><tspan dy="-4">-31</tspan></text>
<text class="lb" transform="translate(168.5 675.35) scale(1.1122 1)" text-anchor="end" x="0" y="0"><tspan>GeO</tspan><tspan font-size="21.5" dy="4">2</tspan><tspan dy="-4">-164</tspan></text>
<text class="lb" transform="translate(519.5 696.25) scale(1.1034 1)" text-anchor="start" x="0" y="0"><tspan>GeS</tspan><tspan font-size="21.5" dy="4">2</tspan><tspan dy="-4">-115</tspan></text>
<text class="lb" transform="translate(168.5 720.55) scale(1.1014 1)" text-anchor="end" x="0" y="0"><tspan>GeTe</tspan><tspan>-156</tspan></text>
<text class="lb" transform="translate(519.5 738.05) scale(1.1085 1)" text-anchor="start" x="0" y="0"><tspan>H</tspan><tspan font-size="21.5" dy="4">2</tspan><tspan dy="-4">Si</tspan><tspan font-size="21.5" dy="4">2</tspan><tspan dy="-4">-164</tspan></text>
<text class="lb" transform="translate(168.5 758.95) scale(1.1173 1)" text-anchor="end" x="0" y="0"><tspan>HfZr</tspan><tspan font-size="21.5" dy="4">3</tspan><tspan dy="-4">S</tspan><tspan font-size="21.5" dy="4">8</tspan><tspan dy="-4">-1</tspan></text>
<text class="lb" transform="translate(519.5 779.85) scale(1.1165 1)" text-anchor="start" x="0" y="0"><tspan>HgBr</tspan><tspan font-size="21.5" dy="4">2</tspan><tspan dy="-4">-115</tspan></text>
<text class="lb" transform="translate(168.5 800.75) scale(1.1358 1)" text-anchor="end" x="0" y="0"><tspan>I</tspan><tspan font-size="21.5" dy="4">6</tspan><tspan dy="-4">Sb</tspan><tspan font-size="21.5" dy="4">2</tspan><tspan dy="-4">-162</tspan></text>
<text class="lb" transform="translate(519.5 821.65) scale(1.1373 1)" text-anchor="start" x="0" y="0"><tspan>K</tspan><tspan font-size="21.5" dy="4">2</tspan><tspan dy="-4">Br</tspan><tspan font-size="21.5" dy="4">2</tspan><tspan dy="-4">-129</tspan></text>
<text class="lb" transform="translate(168.5 842.55) scale(1.1246 1)" text-anchor="end" x="0" y="0"><tspan>K</tspan><tspan font-size="21.5" dy="4">2</tspan><tspan dy="-4">Cl</tspan><tspan font-size="21.5" dy="4">2</tspan><tspan dy="-4">-129</tspan></text>
<text class="lb" transform="translate(519.5 863.45) scale(1.1238 1)" text-anchor="start" x="0" y="0"><tspan>K</tspan><tspan font-size="21.5" dy="4">2</tspan><tspan dy="-4">I</tspan><tspan font-size="21.5" dy="4">2</tspan><tspan dy="-4">-129</tspan></text>
<text class="lb" transform="translate(168.5 884.35) scale(1.1352 1)" text-anchor="end" x="0" y="0"><tspan>Li</tspan><tspan font-size="21.5" dy="4">2</tspan><tspan dy="-4">H</tspan><tspan font-size="21.5" dy="4">2</tspan><tspan dy="-4">O</tspan><tspan font-size="21.5" dy="4">2</tspan><tspan dy="-4">-129</tspan></text>
<text class="lb" transform="translate(519.5 905.25) scale(1.1256 1)" text-anchor="start" x="0" y="0"><tspan>Li</tspan><tspan font-size="21.5" dy="4">2</tspan><tspan dy="-4">H</tspan><tspan font-size="21.5" dy="4">2</tspan><tspan dy="-4">S</tspan><tspan font-size="21.5" dy="4">2</tspan><tspan dy="-4">-1</tspan></text>
<text class="lb" transform="translate(168.5 926.15) scale(1.1053 1)" text-anchor="end" x="0" y="0"><tspan>MgBr</tspan><tspan font-size="21.5" dy="4">2</tspan><tspan dy="-4">-164</tspan></text>
<text class="lb" transform="translate(519.5 947.05) scale(1.0849 1)" text-anchor="start" x="0" y="0"><tspan>MgCl</tspan><tspan font-size="21.5" dy="4">2</tspan><tspan dy="-4">-164</tspan></text>
<text class="lb" transform="translate(168.5 967.95) scale(1.1174 1)" text-anchor="end" x="0" y="0"><tspan>MgH</tspan><tspan font-size="21.5" dy="4">2</tspan><tspan dy="-4">O</tspan><tspan font-size="21.5" dy="4">2</tspan><tspan dy="-4">-164</tspan></text>
<text class="lb" transform="translate(519.5 988.85) scale(1.1066 1)" text-anchor="start" x="0" y="0"><tspan>MgH</tspan><tspan font-size="21.5" dy="4">2</tspan><tspan dy="-4">S</tspan><tspan font-size="21.5" dy="4">2</tspan><tspan dy="-4">-1</tspan></text>
<text class="lb" transform="translate(168.5 1009.75) scale(1.0929 1)" text-anchor="end" x="0" y="0"><tspan>MgI</tspan><tspan font-size="21.5" dy="4">2</tspan><tspan dy="-4">-164</tspan></text>
<text class="lb" transform="translate(519.5 1030.65) scale(1.0747 1)" text-anchor="start" x="0" y="0"><tspan>MoS</tspan><tspan font-size="21.5" dy="4">2</tspan><tspan dy="-4">-187</tspan></text>
<text class="lb" transform="translate(168.5 1051.55) scale(1.0810 1)" text-anchor="end" x="0" y="0"><tspan>MoSe</tspan><tspan font-size="21.5" dy="4">2</tspan><tspan dy="-4">-187</tspan></text>
<text class="lb" transform="translate(519.5 1072.45) scale(1.1495 1)" text-anchor="start" x="0" y="0"><tspan>Na</tspan><tspan font-size="21.5" dy="4">2</tspan><tspan dy="-4">H</tspan><tspan font-size="21.5" dy="4">2</tspan><tspan dy="-4">O</tspan><tspan font-size="21.5" dy="4">2</tspan><tspan dy="-4">-11</tspan></text>
<text class="lb" transform="translate(168.5 1093.35) scale(1.1574 1)" text-anchor="end" x="0" y="0"><tspan>Na</tspan><tspan font-size="21.5" dy="4">2</tspan><tspan dy="-4">H</tspan><tspan font-size="21.5" dy="4">2</tspan><tspan dy="-4">S</tspan><tspan font-size="21.5" dy="4">2</tspan><tspan dy="-4">-1</tspan></text>
<text class="lb" transform="translate(519.5 1114.25) scale(1.1005 1)" text-anchor="start" x="0" y="0"><tspan>Ni</tspan><tspan font-size="21.5" dy="4">2</tspan><tspan dy="-4">Se</tspan><tspan font-size="21.5" dy="4">4</tspan><tspan dy="-4">-14</tspan></text>
<text class="lb" transform="translate(168.5 1135.15) scale(1.1043 1)" text-anchor="end" x="0" y="0"><tspan>NiO</tspan><tspan font-size="21.5" dy="4">2</tspan><tspan dy="-4">-164</tspan></text>
<text class="lb" transform="translate(519.5 1156.05) scale(1.1688 1)" text-anchor="start" x="0" y="0"><tspan>Pb</tspan><tspan font-size="21.5" dy="4">2</tspan><tspan dy="-4">S</tspan><tspan font-size="21.5" dy="4">2</tspan><tspan dy="-4">-6</tspan></text>
<text class="lb" transform="translate(168.5 1176.95) scale(1.1339 1)" text-anchor="end" x="0" y="0"><tspan>PbCl</tspan><tspan font-size="21.5" dy="4">2</tspan><tspan dy="-4">-164</tspan></text>
<text class="lb" transform="translate(519.5 1197.85) scale(1.1473 1)" text-anchor="start" x="0" y="0"><tspan>Pd</tspan><tspan font-size="21.5" dy="4">2</tspan><tspan dy="-4">S</tspan><tspan font-size="21.5" dy="4">4</tspan><tspan dy="-4">-14</tspan></text>
<text class="lb" transform="translate(168.5 1218.75) scale(1.1530 1)" text-anchor="end" x="0" y="0"><tspan>Pd</tspan><tspan font-size="21.5" dy="4">2</tspan><tspan dy="-4">Se</tspan><tspan font-size="21.5" dy="4">4</tspan><tspan dy="-4">-14</tspan></text>
<text class="lb" transform="translate(519.5 1239.65) scale(1.1358 1)" text-anchor="start" x="0" y="0"><tspan>PdO</tspan><tspan font-size="21.5" dy="4">2</tspan><tspan dy="-4">-164</tspan></text>
<text class="lb" transform="translate(168.5 1260.55) scale(1.1494 1)" text-anchor="end" x="0" y="0"><tspan>Rb</tspan><tspan font-size="21.5" dy="4">2</tspan><tspan dy="-4">Br</tspan><tspan font-size="21.5" dy="4">2</tspan><tspan dy="-4">-129</tspan></text>
<text class="lb" transform="translate(519.5 1281.45) scale(1.1281 1)" text-anchor="start" x="0" y="0"><tspan>Rb</tspan><tspan font-size="21.5" dy="4">2</tspan><tspan dy="-4">Cl</tspan><tspan font-size="21.5" dy="4">2</tspan><tspan dy="-4">-129</tspan></text>
<text class="lb" transform="translate(168.5 1302.35) scale(1.1394 1)" text-anchor="end" x="0" y="0"><tspan>Rb</tspan><tspan font-size="21.5" dy="4">2</tspan><tspan dy="-4">I</tspan><tspan font-size="21.5" dy="4">2</tspan><tspan dy="-4">-129</tspan></text>
<text class="lb" transform="translate(519.5 1323.25) scale(1.1360 1)" text-anchor="start" x="0" y="0"><tspan>Rh</tspan><tspan font-size="21.5" dy="4">2</tspan><tspan dy="-4">Cl</tspan><tspan font-size="21.5" dy="4">6</tspan><tspan dy="-4">-162</tspan></text>
<text class="lb" transform="translate(168.5 1344.15) scale(1.1024 1)" text-anchor="end" x="0" y="0"><tspan>S</tspan><tspan font-size="21.5" dy="4">2</tspan><tspan dy="-4">Si</tspan><tspan>-5</tspan></text>
<text class="lb" transform="translate(519.5 1365.05) scale(1.1289 1)" text-anchor="start" x="0" y="0"><tspan>Sc</tspan><tspan font-size="21.5" dy="4">2</tspan><tspan dy="-4">Br</tspan><tspan font-size="21.5" dy="4">2</tspan><tspan dy="-4">S</tspan><tspan font-size="21.5" dy="4">2</tspan><tspan dy="-4">-59</tspan></text>
<text class="lb" transform="translate(168.5 1385.95) scale(1.1416 1)" text-anchor="end" x="0" y="0"><tspan>Sc</tspan><tspan font-size="21.5" dy="4">2</tspan><tspan dy="-4">Cl</tspan><tspan font-size="21.5" dy="4">2</tspan><tspan dy="-4">O</tspan><tspan font-size="21.5" dy="4">2</tspan><tspan dy="-4">-59</tspan></text>
<text class="lb" transform="translate(519.5 1406.85) scale(1.1175 1)" text-anchor="start" x="0" y="0"><tspan>Sc</tspan><tspan font-size="21.5" dy="4">2</tspan><tspan dy="-4">Cl</tspan><tspan font-size="21.5" dy="4">2</tspan><tspan dy="-4">S</tspan><tspan font-size="21.5" dy="4">2</tspan><tspan dy="-4">-59</tspan></text>
<text class="lb" transform="translate(168.5 1427.75) scale(1.1388 1)" text-anchor="end" x="0" y="0"><tspan>Sc</tspan><tspan font-size="21.5" dy="4">2</tspan><tspan dy="-4">Cl</tspan><tspan font-size="21.5" dy="4">2</tspan><tspan dy="-4">Se</tspan><tspan font-size="21.5" dy="4">2</tspan><tspan dy="-4">-59</tspan></text>
<text class="lb" transform="translate(519.5 1448.65) scale(1.1127 1)" text-anchor="start" x="0" y="0"><tspan>Sc</tspan><tspan font-size="21.5" dy="4">2</tspan><tspan dy="-4">Cl</tspan><tspan font-size="21.5" dy="4">6</tspan><tspan dy="-4">-162</tspan></text>
<text class="lb" transform="translate(168.5 1469.55) scale(1.1277 1)" text-anchor="end" x="0" y="0"><tspan>SnO</tspan><tspan font-size="21.5" dy="4">2</tspan><tspan dy="-4">-164</tspan></text>
<text class="lb" transform="translate(519.5 1493.85) scale(1.0594 1)" text-anchor="start" x="0" y="0"><tspan>SnSe</tspan><tspan>-156</tspan></text>
<text class="lb" transform="translate(168.5 1514.75) scale(1.1171 1)" text-anchor="end" x="0" y="0"><tspan>SnTe</tspan><tspan>-156</tspan></text>
<text class="lb" transform="translate(519.5 1532.25) scale(1.1122 1)" text-anchor="start" x="0" y="0"><tspan>SrBr</tspan><tspan font-size="21.5" dy="4">2</tspan><tspan dy="-4">-164</tspan></text>
<text class="lb" transform="translate(168.5 1553.15) scale(1.1265 1)" text-anchor="end" x="0" y="0"><tspan>SrCl</tspan><tspan font-size="21.5" dy="4">2</tspan><tspan dy="-4">-164</tspan></text>
<text class="lb" transform="translate(519.5 1574.05) scale(1.1641 1)" text-anchor="start" x="0" y="0"><tspan>Ti</tspan><tspan font-size="21.5" dy="4">2</tspan><tspan dy="-4">O</tspan><tspan font-size="21.5" dy="4">4</tspan><tspan dy="-4">-11</tspan></text>
<text class="lb" transform="translate(168.5 1594.95) scale(1.1688 1)" text-anchor="end" x="0" y="0"><tspan>Ti</tspan><tspan font-size="21.5" dy="4">2</tspan><tspan dy="-4">O</tspan><tspan font-size="21.5" dy="4">6</tspan><tspan dy="-4">-59</tspan></text>
<text class="lb" transform="translate(519.5 1615.85) scale(1.0976 1)" text-anchor="start" x="0" y="0"><tspan>WS</tspan><tspan font-size="21.5" dy="4">2</tspan><tspan dy="-4">-187</tspan></text>
<text class="lb" transform="translate(168.5 1636.75) scale(1.1126 1)" text-anchor="end" x="0" y="0"><tspan>Y</tspan><tspan font-size="21.5" dy="4">2</tspan><tspan dy="-4">I</tspan><tspan font-size="21.5" dy="4">6</tspan><tspan dy="-4">-162</tspan></text>
<text class="lb" transform="translate(519.5 1657.65) scale(1.1212 1)" text-anchor="start" x="0" y="0"><tspan>ZnBr</tspan><tspan font-size="21.5" dy="4">2</tspan><tspan dy="-4">-115</tspan></text>
<text class="lb" transform="translate(168.5 1678.55) scale(1.1181 1)" text-anchor="end" x="0" y="0"><tspan>ZnCl</tspan><tspan font-size="21.5" dy="4">2</tspan><tspan dy="-4">-115</tspan></text>
<text class="lb" transform="translate(519.5 1699.45) scale(1.1294 1)" text-anchor="start" x="0" y="0"><tspan>ZnF</tspan><tspan font-size="21.5" dy="4">2</tspan><tspan dy="-4">-115</tspan></text>
<text class="lb" transform="translate(168.5 1720.35) scale(1.1387 1)" text-anchor="end" x="0" y="0"><tspan>ZnH</tspan><tspan font-size="21.5" dy="4">2</tspan><tspan dy="-4">O</tspan><tspan font-size="21.5" dy="4">2</tspan><tspan dy="-4">-12</tspan></text>
<text class="lb" transform="translate(519.5 1741.25) scale(1.1148 1)" text-anchor="start" x="0" y="0"><tspan>ZnI</tspan><tspan font-size="21.5" dy="4">2</tspan><tspan dy="-4">-115</tspan></text>
<text class="lb" transform="translate(168.5 1762.15) scale(1.1459 1)" text-anchor="end" x="0" y="0"><tspan>Zr</tspan><tspan font-size="21.5" dy="4">2</tspan><tspan dy="-4">O</tspan><tspan font-size="21.5" dy="4">6</tspan><tspan dy="-4">-59</tspan></text>
<text class="lb" transform="translate(519.5 1783.05) scale(1.0876 1)" text-anchor="start" x="0" y="0"><tspan>ZrS</tspan><tspan font-size="21.5" dy="4">2</tspan><tspan dy="-4">-164</tspan></text>
<text class="lb" transform="translate(203.6 1830.2) scale(1.12 1)" text-anchor="middle">0.3</text>
<text class="lb" transform="translate(273.3 1830.2) scale(1.065 1)" text-anchor="middle">0.15</text>
<text class="lb" transform="translate(343.5 1830.2) scale(1.12 1)" text-anchor="middle">0</text>
<text class="lb" transform="translate(413.45 1830.2) scale(1.12 1)" text-anchor="middle">3</text>
<text class="lb" transform="translate(483.4 1830.2) scale(1.12 1)" text-anchor="middle">6</text>
<text class="lb" transform="translate(256.7 1873.6) scale(1.076 1)" style="font-size:32.5px">Energy</text>
<text class="lb" transform="translate(371.1 1873.6) scale(0.909 1)" style="font-size:32.5px"><tspan style="font-size:38px" dy="1.4">[</tspan><tspan dy="-1.4">eV</tspan><tspan style="font-size:38px" dy="1.4">]</tspan></text>
<rect x="163.1" y="1.9" width="360.6" height="55" rx="5.2" ry="5.2" fill="#fff" stroke="#d6d6d6" stroke-width="4"/>
<rect x="173.7" y="21.7" width="54.1" height="19.2" fill="#9467bd" stroke="#000" stroke-width="3.1"/>
<rect x="365.1" y="21.7" width="54.4" height="19.2" fill="#bcbd22" stroke="#000" stroke-width="3.1"/>
<text class="lb" transform="translate(250 36.4) scale(1.3000 1)" style="font-size:27px;font-style:italic">E</text>
<text class="lb" transform="translate(270.9 40.8) scale(1.2900 1)" style="font-size:20px">hull</text>
<text class="lb" transform="translate(441.6 34.5) scale(1.3300 1)" style="font-size:27px;font-style:italic">E</text>
<text class="lb" transform="translate(463.2 24.8) scale(1.4300 1)" style="font-size:19.5px">PBE</text>
<text class="lb" transform="translate(461.2 40.6) scale(1.4600 1)" style="font-size:18px">gap</text>
</svg></body></html>
